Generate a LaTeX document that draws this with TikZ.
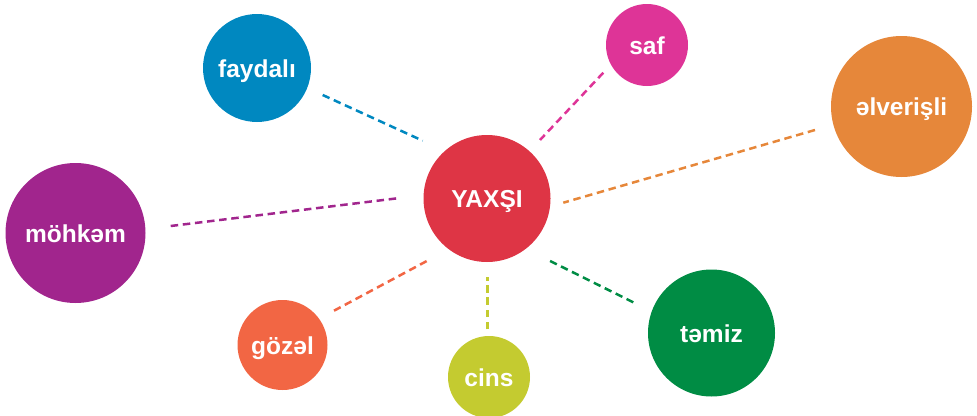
\documentclass[tikz,border=0pt]{standalone}
\usepackage{fontspec}
\setmainfont{Liberation Sans}
\definecolor{cRed}{HTML}{DE3545}
\definecolor{cBlue}{HTML}{0088C0}
\definecolor{cPink}{HTML}{DE3497}
\definecolor{cOrange}{HTML}{E6873A}
\definecolor{cPurple}{HTML}{A1258D}
\definecolor{cCoral}{HTML}{F26644}
\definecolor{cLime}{HTML}{C4CB30}
\definecolor{cGreen}{HTML}{008C44}
\tikzset{
  bubble/.style={circle, fill=#1, draw=none, inner sep=0pt, text=white,
    font=\fontsize{24.5}{27}\selectfont\bfseries, text height=18.5pt, text depth=0pt},
  link/.style={draw=#1, line width=2.5pt, dash pattern=on 7.5pt off 4.7pt}
}
\begin{document}
\begin{tikzpicture}[x=1pt,y=-1pt]
\useasboundingbox (0,0) rectangle (977,415);
% bubbles
\node[bubble=cRed, minimum size=127pt] (yax) at (487,198.5) {YAXŞI};
\node[bubble=cBlue, minimum size=108pt] (fay) at (257,68) {faydalı};
\node[bubble=cPink, minimum size=82pt] (saf) at (647,45) {saf};
\node[bubble=cOrange, minimum size=141pt] (elv) at (901.5,106.5) {əlverişli};
\node[bubble=cPurple, minimum size=140pt] (moh) at (75.5,233) {möhkəm};
\node[bubble=cCoral, minimum size=90pt] (goz) at (282.5,345) {gözəl};
\node[bubble=cLime, minimum size=82pt] (cin) at (489,377) {cins};
\node[bubble=cGreen, minimum size=127pt] (tem) at (711.5,333) {təmiz};
% connector end points
\coordinate (fayA) at (322.7,95);
\coordinate (fayB) at (422.7,140.7);
\coordinate (safA) at (603.3,72.7);
\coordinate (safB) at (540,140);
\coordinate (elvA) at (815,130);
\coordinate (elvB) at (563.3,202.7);
\coordinate (mohA) at (170.7,226);
\coordinate (mohB) at (397.3,198.3);
\coordinate (gozA) at (334,310.7);
\coordinate (gozB) at (430,259.3);
\coordinate (cinA) at (487.3,329.3);
\coordinate (cinB) at (487.3,277.3);
\coordinate (temA) at (633.3,302.3);
\coordinate (temB) at (546.7,259.3);
% connectors
\draw[link=cBlue] (fayA) -- (fayB);
\draw[link=cPink] (safA) -- (safB);
\draw[link=cOrange] (elvA) -- (elvB);
\draw[link=cPurple] (mohA) -- (mohB);
\draw[link=cCoral] (gozA) -- (gozB);
\draw[link=cLime] (cinA) -- (cinB);
\draw[link=cGreen] (temA) -- (temB);
\end{tikzpicture}
\end{document}
